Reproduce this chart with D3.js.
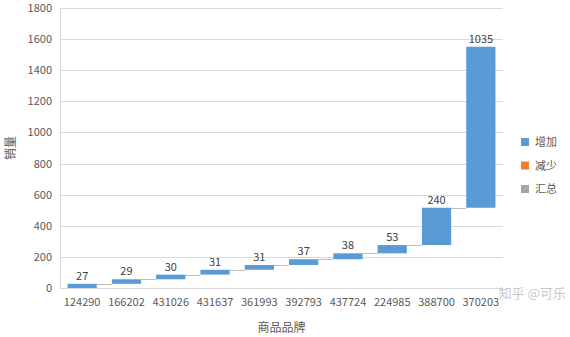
<!DOCTYPE html>
<html>
<head>
<meta charset="utf-8">
<script src="https://cdn.jsdelivr.net/npm/d3@7"></script>
<style>
  body { margin: 0; background: #fff; }
  text { font-family: "Noto Sans CJK SC", "Open Sans", sans-serif; }
</style>
</head>
<body>
<script>
// 数据
var brands = ["124290", "166202", "431026", "431637", "361993", "392793", "437724", "224985", "388700", "370203"];
var increase = [27, 29, 30, 31, 31, 37, 38, 53, 240, 1035];
var yTicks = [0, 200, 400, 600, 800, 1000, 1200, 1400, 1600, 1800];
var legendNames = ["增加", "减少", "汇总"];
var legendColors = ["#5B9BD5", "#ED7D31", "#A5A5A5"];

var W = 570, H = 337;
var margin = {left: 60, right: 67, top: 8, bottom: 49};

var svg = d3.select("body").append("svg")
  .attr("width", W).attr("height", H);

var x = d3.scaleBand().domain(brands)
  .range([margin.left, W - margin.right])
  .paddingInner(0.34).paddingOuter(0.17);

var y = d3.scaleLinear().domain([0, 1800])
  .range([H - margin.bottom, margin.top]);

// 累计的起点和终点
var steps = [];
var acc = 0;
increase.forEach(function(v, i){
  steps.push({brand: brands[i], v: v, y0: acc, y1: acc + v});
  acc += v;
});

// 网格线
svg.append("g")
  .selectAll("line").data(yTicks).enter().append("line")
  .attr("x1", margin.left).attr("x2", W - margin.right)
  .attr("y1", function(d){ return Math.round(y(d)) + 0.5; })
  .attr("y2", function(d){ return Math.round(y(d)) + 0.5; })
  .attr("stroke", "#D9D9D9").attr("stroke-width", 1);

svg.append("line")
  .attr("x1", margin.left + 0.5).attr("x2", margin.left + 0.5)
  .attr("y1", y(1800)).attr("y2", y(0))
  .attr("stroke", "#D9D9D9");

// y轴刻度
svg.append("g")
  .selectAll("text").data(yTicks).enter().append("text")
  .attr("x", margin.left - 8)
  .attr("y", function(d){ return y(d) + 4; })
  .attr("text-anchor", "end")
  .attr("font-size", 11).attr("fill", "#595959")
  .text(function(d){ return d; });

// 连接线
svg.append("g")
  .selectAll("line").data(steps.slice(0, -1)).enter().append("line")
  .attr("x1", function(d){ return x(d.brand) + x.bandwidth(); })
  .attr("x2", function(d, i){ return x(brands[i + 1]); })
  .attr("y1", function(d){ return Math.round(y(d.y1)) + 0.5; })
  .attr("y2", function(d){ return Math.round(y(d.y1)) + 0.5; })
  .attr("stroke", "#BFBFBF").attr("stroke-width", 1);

// 柱子
svg.append("g")
  .selectAll("rect").data(steps).enter().append("rect")
  .attr("x", function(d){ return x(d.brand); })
  .attr("width", x.bandwidth())
  .attr("y", function(d){ return y(d.y1); })
  .attr("height", function(d){ return Math.max(y(d.y0) - y(d.y1), 4); })
  .attr("fill", legendColors[0]);

// 数据标签
svg.append("g")
  .selectAll("text").data(steps).enter().append("text")
  .attr("x", function(d){ return x(d.brand) + x.bandwidth() / 2; })
  .attr("y", function(d){ return y(d.y1) - 4; })
  .attr("text-anchor", "middle")
  .attr("font-size", 11).attr("fill", "#404040")
  .text(function(d){ return d.v; });

// x轴标签
svg.append("g")
  .selectAll("text").data(brands).enter().append("text")
  .attr("x", function(d){ return x(d) + x.bandwidth() / 2; })
  .attr("y", y(0) + 18)
  .attr("text-anchor", "middle")
  .attr("font-size", 11).attr("fill", "#595959")
  .text(function(d){ return d; });

// 轴标题
svg.append("text")
  .attr("x", (margin.left + W - margin.right) / 2)
  .attr("y", 332)
  .attr("text-anchor", "middle")
  .attr("font-size", 12).attr("fill", "#595959")
  .text("商品品牌");

svg.append("text")
  .attr("transform", "translate(15," + ((y(0) + y(1800)) / 2) + ") rotate(-90)")
  .attr("text-anchor", "middle")
  .attr("font-size", 12).attr("fill", "#595959")
  .text("销量");

// 图例
var legend = svg.append("g").attr("transform", "translate(521,138)");
legendNames.forEach(function(name, i){
  var g = legend.append("g").attr("transform", "translate(0," + (i * 23.5) + ")");
  g.append("rect").attr("width", 8).attr("height", 8).attr("fill", legendColors[i]);
  g.append("text").attr("x", 14).attr("y", 8)
    .attr("font-size", 11).attr("fill", "#595959").text(name);
});

// 水印
svg.append("text")
  .attr("x", 566).attr("y", 298)
  .attr("text-anchor", "end")
  .attr("font-size", 13).attr("fill", "#B0B0B0").attr("opacity", 0.7)
  .text("知乎 @可乐");
</script>
</body>
</html>
